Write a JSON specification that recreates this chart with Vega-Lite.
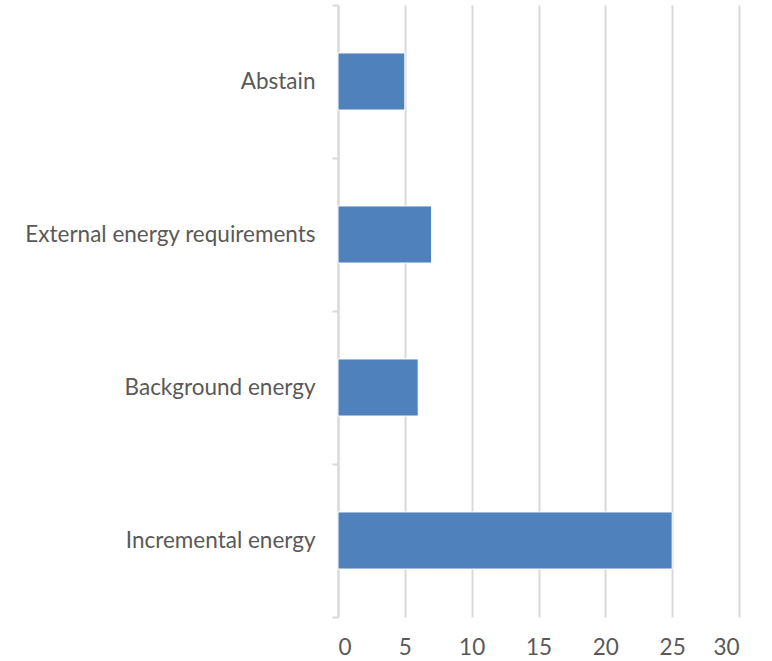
{
  "$schema": "https://vega.github.io/schema/vega-lite/v6.json",
  "autosize": "none",
  "width": 401,
  "height": 612,
  "padding": {"left": 338, "top": 5, "right": 33, "bottom": 44},
  "background": "white",
  "config": {"view": {"stroke": null}},
  "data": {"values": [
    {"category": "Abstain", "value": 5},
    {"category": "External energy requirements", "value": 7},
    {"category": "Background energy", "value": 6},
    {"category": "Incremental energy", "value": 25}
  ]},
  "mark": {"type": "bar", "color": "#4f81bd", "stroke": "white", "strokeWidth": 1, "height": {"band": 0.373}},
  "encoding": {
    "y": {
      "field": "category", "type": "nominal", "sort": null,
      "scale": {"paddingInner": 0, "paddingOuter": 0},
      "axis": {
        "title": null, "grid": false, "tickBand": "extent", "labelLimit": 400,
        "domainColor": "#d9d9d9", "domainWidth": 2, "tickColor": "#d9d9d9", "tickWidth": 2, "tickSize": 6,
        "labelFont": "Lato", "labelFontSize": 22.5, "labelColor": "#595959", "labelPadding": 17
      }
    },
    "x": {
      "field": "value", "type": "quantitative",
      "scale": {"domain": [0, 30], "nice": false},
      "axis": {
        "title": null, "values": [0, 5, 10, 15, 20, 25, 30], "domain": false, "ticks": false,
        "gridColor": "#d9d9d9", "gridWidth": 2,
        "labelFont": "Lato", "labelFontSize": 22.5, "labelColor": "#595959", "labelPadding": 19
      }
    }
  }
}
